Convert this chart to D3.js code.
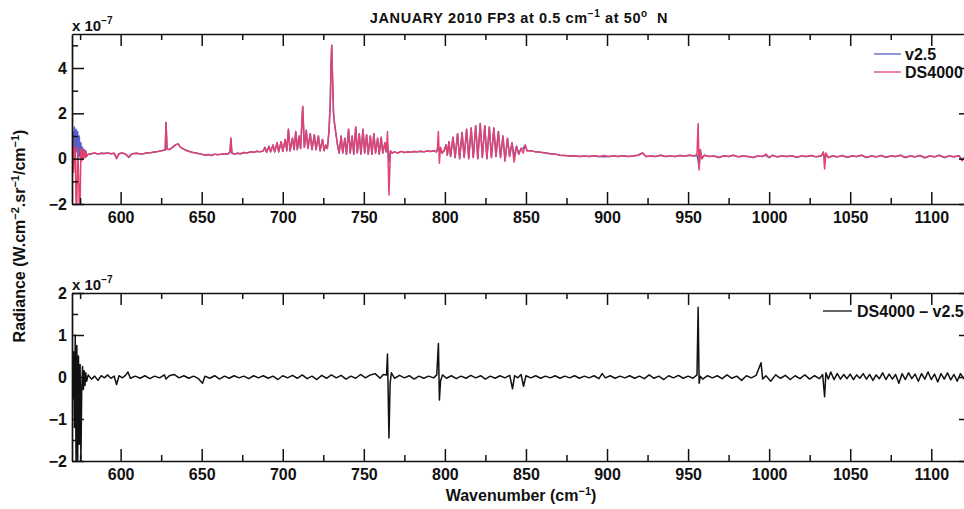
<!DOCTYPE html>
<html><head><meta charset="utf-8">
<script src="https://cdn.jsdelivr.net/npm/d3@7"></script>
<style>
body{margin:0;background:#fff}
svg{display:block}
text{font-family:"Liberation Sans",Arial,Helvetica,sans-serif;font-weight:bold;fill:#111}
</style>
</head><body>
<svg id="c" width="964" height="509"></svg>
<script>
// ---------- data (values in units of 1e-7 W.cm-2.sr-1/cm-1) ----------
const xMajorTicks = [600,650,700,750,800,850,900,950,1000,1050,1100];
const xMinorTicks = [575,625,675,725,775,825,875,925,975,1025,1075];
const topYMajor = [-2,0,2,4];
const topYMinor = [-1,1,3,5];
const botYMajor = [-2,-1,0,1,2];
const botYMinor = [-1.5,-0.5,0.5,1.5];
const seriesNames = ["v2.5","DS4000","DS4000 \u2013 v2.5"];

const ds4000Pts = [
[570,0.2],[570.5,0.9],[571,-0.6],[571.5,0.5],[572,0.4],[572.5,-2.0],[573,-2.0],[573.5,0.5],[574,-0.5],[574.5,-2.0],
[575,-2.0],[575.5,0.4],[576,-0.1],[576.5,0.45],[577,0.0],[577.5,0.35],[578,0.05],[578.5,0.3],[579,0.1],[580,0.2],
[582,0.22],[584,0.25],[586,0.2],[588,0.24],[590,0.23],[592,0.25],[594,0.22],[596,0.24],[597.5,0.0],[599,0.22],
[601,0.25],[603,0.2],[605,0.08],[607,0.22],[610,0.24],[613,0.2],[616,0.25],[619,0.27],[622,0.3],[625,0.35],
[627.5,0.38],[628,1.6],[628.6,0.42],[630,0.4],[632,0.5],[634,0.62],[635.5,0.65],[637,0.5],[639,0.42],[641,0.35],
[644,0.28],[647,0.24],[650,0.2],[652,0.15],[654,0.18],[656,0.14],[658,0.2],[660,0.17],[662,0.2],[664,0.22],
[666,0.2],[667.5,0.3],[668,0.9],[668.6,0.25],[670,0.2],[672,0.24],[674,0.22],[676,0.27],[678,0.25],[680,0.3],
[682,0.28],[684,0.33],[686,0.3],[688,0.35],
[689,0.5],[690,0.28],[691.5,0.55],[692.5,0.3],[694,0.6],[695,0.3],[696.5,0.7],[697.5,0.3],[699,0.75],[700,0.32],
[701.5,0.85],[702.5,0.35],[703.5,1.3],[704.5,0.35],[706,0.9],[707,0.4],[708,1.2],[709,0.4],[710,1.0],[711,0.45],
[712.3,2.3],[713.3,0.5],[714.5,1.25],[715.5,0.45],[717,1.1],[718,0.4],[719.5,1.05],[720.5,0.4],[722,1.0],[723,0.35],
[724.5,0.85],[725.5,0.35],[726.5,0.6],[727.5,0.45],[728.5,1.2],[729.3,2.5],[729.8,4.2],[730.2,5.0],[730.7,3.5],[731.3,2.0],
[732,1.5],[733,1.0],[734,0.5],[734.8,0.25],
[736,1.0],[737,0.25],[738.3,0.9],[739.3,0.2],[740.6,1.3],[741.6,0.25],[742.8,1.0],[743.8,0.2],[745,1.4],[746,0.25],
[747.2,1.1],[748.2,0.2],[749.5,1.3],[750.5,0.25],[751.7,1.05],[752.7,0.2],[754,1.0],[755,0.2],[756.2,1.1],[757.2,0.25],
[758.5,0.9],[759.5,0.2],[760.7,0.95],[761.7,0.25],[763,0.7],[763.8,0.3],[764.6,1.2],[765.5,-1.6],[766.4,0.35],[767.5,0.25],
[769,0.3],[771,0.25],[773,0.32],[775,0.27],[777,0.3],[779,0.28],[781,0.32],[783,0.3],[785,0.33],[787,0.3],
[789,0.34],[791,0.32],[793,0.35],[794.8,0.3],[795.4,0.45],[796,1.2],[796.6,-0.2],[797.3,0.5],[798.3,0.25],[799.5,0.35],
[800.7,0.6],[801.5,0.15],[802.5,0.75],[803.5,0.1],[805,0.95],[806.3,0.05],[807.8,1.1],[809.1,0.0],[810.6,1.15],[811.9,0.05],
[813.4,1.3],[814.7,0.0],[816.2,1.35],[817.5,0.05],[819,1.45],[820.3,0.0],[821.8,1.55],[823.1,0.05],[824.6,1.45],[825.9,0.0],
[827.4,1.4],[828.7,0.05],[830.2,1.35],[831.5,0.1],[833,1.2],[834.3,0.05],[835.8,1.0],[837.1,-0.1],[838.6,0.9],[839.9,0.1],
[841.4,0.7],[842.7,-0.15],[844.2,0.55],[845.5,0.2],[847,0.45],[848.3,0.25],[849.5,0.6],[850.7,0.35],
[853,0.35],[856,0.3],[859,0.28],[862,0.25],[865,0.22],[868,0.2],[871,0.15],[874,0.14],[877,0.12],[880,0.13],
[883,0.1],[886,0.12],[889,0.1],[892,0.13],[895,0.1],[898,0.14],[901,0.1],[904,0.12],[907,0.1],[910,0.13],
[913,0.1],[916,0.12],[919,0.15],[922,0.25],[924,0.1],[927,0.12],[930,0.1],[933,0.15],[936,0.1],[939,0.12],
[942,0.1],[945,0.14],[948,0.12],[951,0.15],[954,0.12],[955.5,0.2],[956.2,1.55],[956.8,-0.5],[957.5,0.4],[958.5,0.0],
[960,0.15],[963,0.1],[966,0.12],[969,0.05],[972,0.13],[975,0.1],[978,0.15],[981,0.08],[984,0.12],[987,0.1],
[990,0.05],[993,0.12],[996,0.1],[998,0.2],[1000,0.05],[1002,0.15],[1005,0.08],[1008,0.12],[1011,0.1],[1014,0.13],
[1017,0.06],[1020,0.12],[1023,0.1],[1026,0.14],[1029,0.08],[1032,0.12],[1033.5,0.3],[1034.2,-0.45],[1035,0.25],[1036.5,0.05],
[1039,0.12],[1042,0.08],[1045,0.14],[1048,0.06],[1051,0.12],[1054,0.1],[1057,0.15],[1060,0.05],[1063,0.12],[1066,0.08],
[1069,0.14],[1072,0.06],[1075,0.12],[1078,0.1],[1081,0.15],[1084,0.05],[1087,0.12],[1090,0.08],[1093,0.14],[1096,0.04],
[1099,0.12],[1102,0.08],[1105,0.15],[1108,0.05],[1111,0.12],[1114,0.08],[1117,0.13],[1119,-0.1],[1121,0.1],[1124,0.08]
];

const v25Pts = [
[570,0.3],[570.5,1.2],[571,0.2],[571.5,1.4],[572,0.1],[572.5,1.3],[573,0.3],[573.5,1.2],[574,0.0],[574.5,1.0],
[575,0.1],[575.5,0.7],[576,0.0],[576.5,0.5],[577,0.1],[577.5,0.4],[578,0.05],[578.5,0.35],[579,0.1],[580,0.2],
[582,0.22],[584,0.25],[586,0.2],[588,0.24],[590,0.23],[592,0.25],[594,0.22],[596,0.24],[597.5,0.02],[599,0.22],
[601,0.25],[603,0.2],[605,0.05],[607,0.22],[610,0.24],[613,0.2],[616,0.25],[619,0.27],[622,0.3],[625,0.35],
[627.5,0.38],[628,1.6],[628.6,0.42],[630,0.4],[632,0.5],[634,0.62],[635.5,0.65],[637,0.5],[639,0.42],[641,0.35],
[644,0.28],[647,0.24],[650,0.2],[652,0.15],[654,0.18],[656,0.14],[658,0.2],[660,0.17],[662,0.2],[664,0.22],
[666,0.2],[667.5,0.3],[668,0.9],[668.6,0.25],[670,0.2],[672,0.24],[674,0.22],[676,0.27],[678,0.25],[680,0.3],
[682,0.28],[684,0.33],[686,0.3],[688,0.35],
[689,0.5],[690,0.28],[691.5,0.55],[692.5,0.3],[694,0.6],[695,0.3],[696.5,0.7],[697.5,0.3],[699,0.75],[700,0.32],
[701.5,0.85],[702.5,0.35],[703.5,1.3],[704.5,0.35],[706,0.9],[707,0.4],[708,1.2],[709,0.4],[710,1.0],[711,0.45],
[712.3,2.3],[713.3,0.5],[714.5,1.25],[715.5,0.45],[717,1.1],[718,0.4],[719.5,1.05],[720.5,0.4],[722,1.0],[723,0.35],
[724.5,0.85],[725.5,0.35],[726.5,0.6],[727.5,0.45],[728.5,1.2],[729.3,2.5],[729.8,4.2],[730.2,5.0],[730.7,3.5],[731.3,2.0],
[732,1.5],[733,1.0],[734,0.5],[734.8,0.25],
[736,1.0],[737,0.25],[738.3,0.9],[739.3,0.2],[740.6,1.3],[741.6,0.25],[742.8,1.0],[743.8,0.2],[745,1.4],[746,0.25],
[747.2,1.1],[748.2,0.2],[749.5,1.3],[750.5,0.25],[751.7,1.05],[752.7,0.2],[754,1.0],[755,0.2],[756.2,1.1],[757.2,0.25],
[758.5,0.9],[759.5,0.2],[760.7,0.95],[761.7,0.25],[763,0.7],[763.8,0.3],[764.6,0.65],[765.5,-0.15],[766.4,0.3],[767.5,0.25],
[769,0.3],[771,0.25],[773,0.32],[775,0.27],[777,0.3],[779,0.28],[781,0.32],[783,0.3],[785,0.33],[787,0.3],
[789,0.34],[791,0.32],[793,0.35],[794.8,0.3],[795.4,0.4],[796,0.4],[796.6,0.35],[797.3,0.45],[798.3,0.25],[799.5,0.35],
[800.7,0.6],[801.5,0.15],[802.5,0.75],[803.5,0.1],[805,0.95],[806.3,0.05],[807.8,1.1],[809.1,0.0],[810.6,1.15],[811.9,0.05],
[813.4,1.3],[814.7,0.0],[816.2,1.35],[817.5,0.05],[819,1.45],[820.3,0.0],[821.8,1.55],[823.1,0.05],[824.6,1.45],[825.9,0.0],
[827.4,1.4],[828.7,0.05],[830.2,1.35],[831.5,0.1],[833,1.2],[834.3,0.05],[835.8,1.0],[837.1,-0.1],[838.6,0.9],[839.9,0.1],
[841.4,0.7],[842.7,0.1],[844.2,0.55],[845.5,0.2],[847,0.45],[848.3,0.45],[849.5,0.6],[850.7,0.35],
[853,0.35],[856,0.3],[859,0.28],[862,0.25],[865,0.22],[868,0.2],[871,0.15],[874,0.14],[877,0.12],[880,0.13],
[883,0.1],[886,0.12],[889,0.1],[892,0.13],[895,0.1],[898,0.08],[901,0.1],[904,0.12],[907,0.1],[910,0.13],
[913,0.1],[916,0.12],[919,0.15],[922,0.25],[924,0.1],[927,0.12],[930,0.1],[933,0.15],[936,0.1],[939,0.12],
[942,0.1],[945,0.14],[948,0.12],[951,0.15],[954,0.12],[955.5,0.15],[956.2,-0.1],[956.8,-0.4],[957.5,0.4],[958.5,0.0],
[960,0.15],[963,0.1],[966,0.12],[969,0.05],[972,0.13],[975,0.1],[978,0.15],[981,0.08],[984,0.12],[987,0.1],
[990,0.05],[993,0.12],[996,0.1],[998,0.15],[1000,0.05],[1002,0.15],[1005,0.08],[1008,0.12],[1011,0.1],[1014,0.13],
[1017,0.06],[1020,0.12],[1023,0.1],[1026,0.14],[1029,0.08],[1032,0.12],[1033.5,0.25],[1034.2,0.02],[1035,0.15],[1036.5,0.05],
[1039,0.12],[1042,0.08],[1045,0.14],[1048,0.06],[1051,0.12],[1054,0.1],[1057,0.15],[1060,0.05],[1063,0.12],[1066,0.08],
[1069,0.14],[1072,0.06],[1075,0.12],[1078,0.1],[1081,0.15],[1084,0.05],[1087,0.12],[1090,0.08],[1093,0.14],[1096,0.04],
[1099,0.12],[1102,0.08],[1105,0.15],[1108,0.05],[1111,0.12],[1114,0.08],[1117,0.13],[1119,-0.05],[1121,0.1],[1124,0.08]
];

const diffPts = [
[570,0.2],[570.5,-0.5],[571,0.6],[571.5,-1.2],[572,1.0],[572.5,-2.0],[573,0.75],[573.5,-2.0],[574,0.5],[574.5,-1.6],
[575,0.3],[575.5,-2.0],[576,-0.3],[576.5,0.25],[577,-0.3],[577.5,0.15],[578,-0.2],[578.5,0.1],[579,-0.1],[580,0.05],
[582,-0.05],[584,0.02],[586,-0.08],[588,0.03],[590,-0.02],[592,0.05],[594,-0.03],[596,0.02],[597.5,-0.18],[599,0.03],
[601,-0.02],[603,0.04],[604.5,0.12],[606,-0.03],[609,0.02],[612,-0.03],[615,0.03],[618,-0.04],[621,0.02],[624,-0.02],
[627,0.05],[628,-0.05],[630,0.03],[633,0.06],[636,-0.02],[639,0.03],[642,-0.03],[645,0.02],[648,-0.04],[650.5,-0.15],
[652,0.02],[655,-0.03],[658,0.03],[661,-0.05],[664,0.02],[667,-0.03],[670,0.03],[673,-0.02],[676,0.02],[679,-0.04],
[682,0.03],[685,-0.02],[688,0.03],[691,-0.03],[694,0.02],[697,-0.06],[700,0.03],[703,-0.02],[706,0.04],[709,-0.03],
[712,0.05],[715,-0.04],[718,0.02],[721,-0.06],[724,0.04],[727,-0.03],[730,0.05],[733,-0.02],[736,0.04],[739,-0.05],
[742,0.02],[745,-0.03],[748,0.06],[751,-0.02],[754,0.05],[757,0.08],[760,-0.03],[762,0.06],[764,0.05],[764.6,0.55],
[765.5,-1.45],[766.2,-0.15],[767,0.1],[769,-0.03],[772,0.04],[775,-0.02],[778,0.03],[781,-0.05],[784,0.02],[787,-0.03],
[790,0.02],[793,-0.02],[795,0.05],[796,0.8],[796.6,-0.55],[797.3,-0.1],[798.5,0.05],[801,-0.03],[804,0.03],[807,-0.04],
[810,0.02],[813,-0.03],[816,0.04],[819,-0.02],[822,0.03],[825,-0.05],[828,0.02],[831,-0.03],[834,0.03],[837,-0.02],
[840,0.04],[841.7,-0.28],[843,0.03],[845,-0.02],[847,0.06],[848.5,-0.22],[850,0.03],[853,-0.02],[856,0.03],[859,-0.03],
[862,0.02],[865,-0.02],[868,0.03],[871,-0.03],[874,0.02],[877,-0.02],[880,0.03],[883,-0.03],[886,0.02],[889,-0.02],
[892,0.03],[895,-0.04],[897,0.08],[899,-0.02],[902,0.03],[905,-0.03],[908,0.02],[911,-0.02],[914,0.03],[917,-0.03],
[920,0.02],[923,-0.04],[926,0.05],[929,-0.03],[932,0.02],[935,-0.06],[938,0.03],[941,-0.02],[944,0.04],[947,-0.03],
[950,0.02],[953,-0.03],[955.5,0.05],[956.2,1.66],[956.8,-0.15],[957.5,0.02],[959,-0.05],[962,0.03],[965,-0.02],[968,0.03],
[971,-0.04],[974,0.05],[977,-0.03],[980,0.02],[983,-0.08],[986,0.03],[989,-0.02],[992,0.04],[995,0.34],[996,-0.05],
[998,0.03],[1001,-0.1],[1004,0.05],[1007,-0.03],[1010,0.04],[1013,-0.06],[1016,0.03],[1019,-0.04],[1022,0.05],[1025,-0.05],
[1028,0.03],[1031,-0.04],[1033,0.06],[1034.2,-0.47],[1035,0.1],[1036.5,-0.05],[1038,0.12],[1040,-0.06],[1042,0.08],[1044,-0.05],
[1046,0.06],[1048,-0.04],[1050,0.07],[1052,-0.06],[1054,0.05],[1056,-0.03],[1058,0.08],[1060,-0.05],[1062,0.06],[1064,-0.08],
[1066,0.05],[1068,-0.04],[1070,0.1],[1072,-0.06],[1074,0.07],[1076,-0.05],[1078,0.06],[1080,-0.15],[1082,0.08],[1084,-0.06],
[1086,0.1],[1088,-0.04],[1090,0.07],[1092,-0.1],[1094,0.08],[1096,-0.05],[1098,0.12],[1100,-0.06],[1102,0.07],[1104,-0.12],
[1106,0.08],[1108,-0.05],[1110,0.1],[1112,-0.07],[1114,0.06],[1116,-0.1],[1118,0.08],[1120,-0.04],[1122,0.06],[1124,-0.03]
];

// ---------- drawing ----------
const svg = d3.select("#c");
const L = 72, R = 971;
const x = d3.scaleLinear().domain([570,1124.5]).range([L,R]);
const yTop = d3.scaleLinear().domain([-2,5.5]).range([204,34]);
const yBot = d3.scaleLinear().domain([-2,2]).range([461,293]);
const colors = {v25:"#5560c8", ds:"#e2426e", diff:"#111"};
const fmt = d => d < 0 ? "\u2212" + Math.abs(d) : String(d);

function styleAxis(g){
  g.attr("font-family", null).attr("font-size", null);
  g.selectAll(".domain").attr("stroke","#111").attr("stroke-width",1.7);
  g.selectAll(".tick line").attr("stroke","#111").attr("stroke-width",1.5);
  g.selectAll("text").attr("fill","#111").style("font-size","16px").style("font-weight","bold");
}

function panel(id, y, yMajor, yMinor, series){
  const [yb, yt] = y.range();
  svg.append("clipPath").attr("id","clip"+id)
    .append("rect").attr("x",L).attr("y",yt).attr("width",R-L).attr("height",yb-yt);

  const line = d3.line().x(d => x(d[0])).y(d => y(d[1]));
  const g = svg.append("g").attr("clip-path", `url(#clip${id})`);
  series.forEach(s => {
    g.append("path").datum(s.data).attr("d", line)
      .attr("fill","none").attr("stroke", s.color).attr("stroke-width",1.5)
      .attr("stroke-linejoin","round");
  });

  svg.append("g").attr("transform",`translate(0,${yb})`)
    .call(d3.axisBottom(x).tickValues(xMajorTicks).tickFormat(fmt).tickSizeInner(-12).tickSizeOuter(0).tickPadding(8)).call(styleAxis);
  svg.append("g").attr("transform",`translate(0,${yb})`)
    .call(d3.axisBottom(x).tickValues(xMinorTicks).tickFormat("").tickSizeInner(-6).tickSizeOuter(0)).call(styleAxis)
    .select(".domain").remove();
  svg.append("g").attr("transform",`translate(0,${yt})`)
    .call(d3.axisTop(x).tickValues(xMajorTicks).tickFormat("").tickSizeInner(-12).tickSizeOuter(0)).call(styleAxis);
  svg.append("g").attr("transform",`translate(0,${yt})`)
    .call(d3.axisTop(x).tickValues(xMinorTicks).tickFormat("").tickSizeInner(-6).tickSizeOuter(0)).call(styleAxis)
    .select(".domain").remove();
  svg.append("g").attr("transform",`translate(${L},0)`)
    .call(d3.axisLeft(y).tickValues(yMajor).tickFormat(fmt).tickSizeInner(-12).tickSizeOuter(0).tickPadding(5)).call(styleAxis);
  svg.append("g").attr("transform",`translate(${L},0)`)
    .call(d3.axisLeft(y).tickValues(yMinor).tickFormat("").tickSizeInner(-6).tickSizeOuter(0)).call(styleAxis)
    .select(".domain").remove();
  svg.append("g").attr("transform",`translate(${R},0)`)
    .call(d3.axisRight(y).tickValues(yMajor).tickFormat("").tickSizeInner(-12).tickSizeOuter(0)).call(styleAxis);
  svg.append("g").attr("transform",`translate(${R},0)`)
    .call(d3.axisRight(y).tickValues(yMinor).tickFormat("").tickSizeInner(-6).tickSizeOuter(0)).call(styleAxis)
    .select(".domain").remove();

  const ex = svg.append("text").attr("x", L).attr("y", yt - 3).style("font-size","15px");
  ex.append("tspan").text("x 10");
  ex.append("tspan").attr("dy",-7).style("font-size","10px").text("\u22127");
}

panel("top", yTop, topYMajor, topYMinor, [
  {data: v25Pts, color: colors.v25},
  {data: ds4000Pts, color: colors.ds}
]);
panel("bot", yBot, botYMajor, botYMinor, [
  {data: diffPts, color: colors.diff}
]);

const lg = svg.append("g");
[[seriesNames[0], colors.v25, 54, 60],[seriesNames[1], colors.ds, 72, 78]].forEach(([t,c,ly,ty]) => {
  lg.append("line").attr("x1",874).attr("x2",901).attr("y1",ly).attr("y2",ly).attr("stroke",c).attr("stroke-width",1.3);
  lg.append("text").attr("x",905).attr("y",ty).style("font-size","16px").text(t);
});
lg.append("line").attr("x1",823).attr("x2",852).attr("y1",311).attr("y2",311).attr("stroke",colors.diff).attr("stroke-width",1.3);
lg.append("text").attr("x",857).attr("y",317).style("font-size","16px").text(seriesNames[2]);

const title = svg.append("text").attr("x",519).attr("y",22.5).attr("text-anchor","middle")
  .style("font-size","14.5px").style("letter-spacing","0.6px");
title.append("tspan").text("JANUARY 2010 FP3 at 0.5 cm");
title.append("tspan").attr("dy",-6).style("font-size","10px").text("\u22121");
title.append("tspan").attr("dy",6).text(" at 50");
title.append("tspan").attr("dy",-6).style("font-size","10px").text("o");
title.append("tspan").attr("dy",6).text("\u00a0\u00a0N");

const xt = svg.append("text").attr("x",521).attr("y",501).attr("text-anchor","middle").style("font-size","16px");
xt.append("tspan").text("Wavenumber (cm");
xt.append("tspan").attr("dy",-6).style("font-size","11px").text("\u22121");
xt.append("tspan").attr("dy",6).text(")");

const yt = svg.append("text").attr("transform","translate(25,236) rotate(-90)").attr("text-anchor","middle").style("font-size","16px");
yt.append("tspan").text("Radiance (W.cm");
yt.append("tspan").attr("dy",-6).style("font-size","11px").text("\u22122");
yt.append("tspan").attr("dy",6).text(".sr");
yt.append("tspan").attr("dy",-6).style("font-size","11px").text("\u22121");
yt.append("tspan").attr("dy",6).text("/cm");
yt.append("tspan").attr("dy",-6).style("font-size","11px").text("\u22121");
yt.append("tspan").attr("dy",6).text(")");
</script>
</body></html>
